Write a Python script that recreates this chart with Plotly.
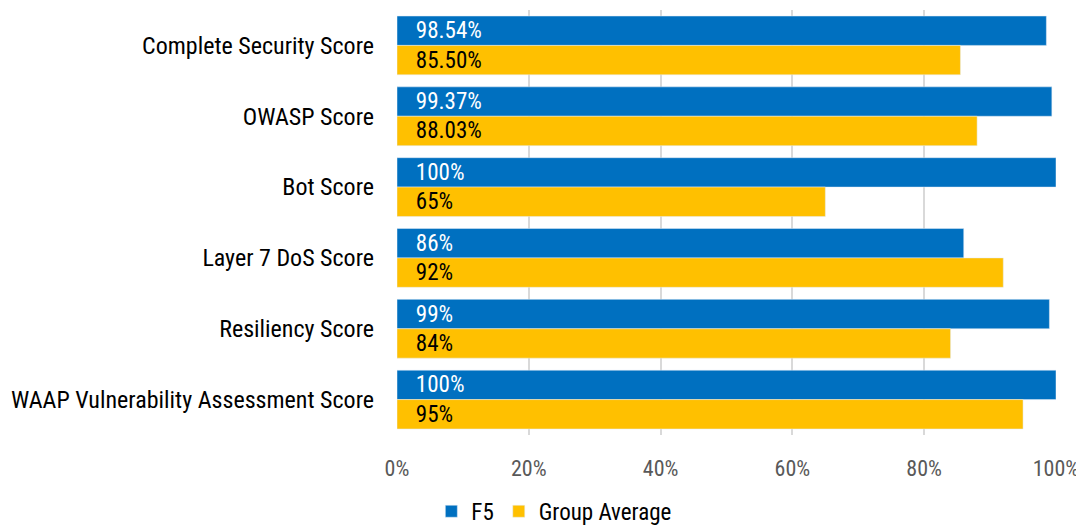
import plotly.graph_objects as go

categories = ["Complete Security Score", "OWASP Score", "Bot Score",
              "Layer 7 DoS Score", "Resiliency Score",
              "WAAP Vulnerability Assessment Score"]
f5_values = [98.54, 99.37, 100, 86, 99, 100]
f5_labels = ["98.54%", "99.37%", "100%", "86%", "99%", "100%"]
group_values = [85.50, 88.03, 65, 92, 84, 95]
group_labels = ["85.50%", "88.03%", "65%", "92%", "84%", "95%"]
x_ticks = [0, 20, 40, 60, 80, 100]
x_tick_labels = ["0%", "20%", "40%", "60%", "80%", "100%"]

FONT = "Roboto Condensed, Liberation Sans Narrow, Roboto, sans-serif"
pad = "\u00a0\u00a0\u00a0"

fig = go.Figure()
fig.add_trace(go.Bar(
    y=categories, x=f5_values, name="F5", orientation="h",
    marker=dict(color="#0070C0"),
    text=[pad + t for t in f5_labels], textposition="inside",
    insidetextanchor="start", textfont=dict(color="white", size=23, family=FONT),
    hoverinfo="skip",
))
fig.add_trace(go.Bar(
    y=categories, x=group_values, name="Group Average", orientation="h",
    marker=dict(color="#FFC000"),
    text=[pad + t for t in group_labels], textposition="inside",
    insidetextanchor="start", textfont=dict(color="black", size=23, family=FONT),
    hoverinfo="skip",
))

# page body adds 8px offset, so figure is sized to fit the 1084x529 window
fig.update_layout(
    width=1076, height=521,
    margin=dict(l=389, r=28, t=2, b=94, autoexpand=False),
    barmode="group", bargap=0.17, bargroupgap=0,
    plot_bgcolor="white", paper_bgcolor="white",
    font=dict(family=FONT, size=23, color="black"),
    legend=dict(orientation="h", x=0.238, xanchor="center",
                yref="container", y=0.034, yanchor="middle",
                font=dict(size=23, color="black"),
                itemwidth=30, traceorder="normal"),
    uniformtext=dict(minsize=23, mode="show"),
)
fig.update_xaxes(
    range=[0, 100], tickvals=x_ticks, ticktext=x_tick_labels,
    showgrid=True, gridcolor="#D9D9D9", gridwidth=2, zeroline=False,
    tickfont=dict(size=22, color="#595959"), ticklabelstandoff=18,
    showline=False, automargin=False,
)
fig.update_yaxes(
    autorange="reversed", showgrid=False, ticklabelstandoff=22,
    tickfont=dict(size=24, color="black"), showline=False, automargin=False,
)

fig.write_html("out.html")
